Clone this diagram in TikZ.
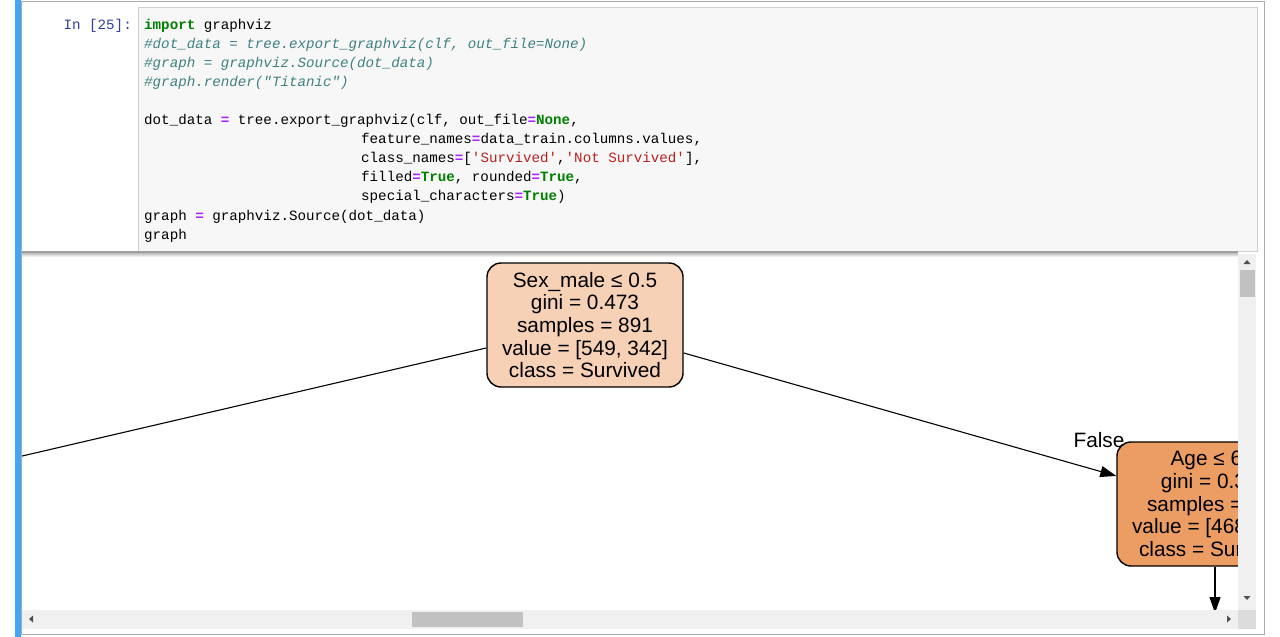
\documentclass[tikz,border=0pt]{standalone}
\usepackage{fontspec}
\setmainfont{Liberation Sans}
\setmonofont{Liberation Mono}
\usetikzlibrary{positioning,arrows.meta}
\definecolor{cellblue}{HTML}{42A5F5}
\definecolor{cellborder}{HTML}{ABABAB}
\definecolor{inbg}{HTML}{F7F7F7}
\definecolor{inborder}{HTML}{CFCFCF}
\definecolor{promptblue}{HTML}{303F9F}
\definecolor{pygreen}{HTML}{008000}
\definecolor{pycomment}{HTML}{408080}
\definecolor{pypurple}{HTML}{AA22FF}
\definecolor{pyred}{HTML}{BA2121}
\definecolor{rootfill}{HTML}{F6D1B6}
\definecolor{agefill}{HTML}{EB9D64}
\definecolor{barbg}{HTML}{F0F0F0}
\definecolor{barthumb}{HTML}{C1C1C1}
\definecolor{barcorner}{HTML}{DCDCDC}
\definecolor{bararrow}{HTML}{505050}
\newcommand{\pykw}[1]{\textcolor{pygreen}{\bfseries #1}}
\newcommand{\pyeq}{\textcolor{pypurple}{\bfseries =}}
\newcommand{\pystr}[1]{\textcolor{pyred}{#1}}
\newcommand{\pycmt}[1]{\textcolor{pycomment}{\itshape #1}}
\tikzset{x=1pt, y=-1pt,
  codeline/.style={anchor=base west, inner sep=0pt, font=\ttfamily\fontsize{14.2}{17}\selectfont},
  treenode/.style={draw=black, line width=1.4pt, rounded corners=14pt, align=center,
    minimum width=196pt, minimum height=124pt, inner sep=0pt, font=\fontsize{20.8}{22.6}\selectfont},
  edge/.style={black, line width=1.1pt, -{Triangle[length=16pt,width=11pt]}},
  edgelabel/.style={inner sep=0pt, font=\fontsize{20.8}{22.6}\selectfont},
  barbtn/.style={fill=bararrow, draw=none}}

\begin{document}
\begin{tikzpicture}
   \useasboundingbox (0,0) rectangle (1280,637);
   % cell frame
   \fill[white] (0,0) rectangle (1280,637);
   \draw[cellborder, line width=1pt] (21,1) rectangle (1264,634);
   \fill[cellblue] (15,0) rectangle (21,637);
   % input area
   \draw[inborder, fill=inbg, line width=1pt] (138,7.5) rectangle (1257,251);
   \node[codeline, anchor=base east, text=promptblue] (prompt) at (132,29) {In [25]:};
   \node[codeline] (c1)  at (144, 29.0) {\pykw{import} graphviz};
   \node[codeline] (c2)  at (144, 48.1) {\pycmt{\#dot\_data = tree.export\_graphviz(clf, out\_file=None)}};
   \node[codeline] (c3)  at (144, 67.2) {\pycmt{\#graph = graphviz.Source(dot\_data)}};
   \node[codeline] (c4)  at (144, 86.3) {\pycmt{\#graph.render("Titanic")}};
   \node[codeline] (c5)  at (144,124.5) {dot\_data \pyeq{} tree.export\_graphviz(clf, out\_file\pyeq\pykw{None},};
   \node[codeline] (c6)  at (361,143.6) {feature\_names\pyeq{}data\_train.columns.values,};
   \node[codeline] (c7)  at (361,162.7) {class\_names\pyeq{}[\pystr{'Survived'},\pystr{'Not Survived'}],};
   \node[codeline] (c8)  at (361,181.8) {filled\pyeq\pykw{True}, rounded\pyeq\pykw{True},};
   \node[codeline] (c9)  at (361,200.9) {special\_characters\pyeq\pykw{True})};
   \node[codeline] (c10) at (144,220.0) {graph \pyeq{} graphviz.Source(dot\_data)};
   \node[codeline] (c11) at (144,239.1) {graph};
   % output area
   \begin{scope}
    \clip (22,251) rectangle (1238,610);
    \fill[gray!75] (22,251) rectangle (1238,253.5);
    \shade[top color=gray!45, bottom color=white] (22,253.5) rectangle (1238,257);
    \node[treenode, fill=rootfill] (root) at (585,325)
      {Sex\_male ≤ 0.5\\gini = 0.473\\samples = 891\\value = [549, 342]\\class = Survived};
    \node[treenode, fill=agefill] (age) at (1215,504)
      {Age ≤ 6.5\\gini = 0.306\\samples = 577\\value = [468, 109]\\class = Survived};
    \coordinate (lft) at (-300,531);
    \coordinate (agekid) at (1215,613);
    \draw[edge] (root) -- (lft);
    \draw[edge] (root) -- (age);
    \draw[edge] (age) -- (agekid);
    \node[edgelabel] (lblfalse) at (1099,440) {False};
   \end{scope}
   % scrollbars
   \fill[barbg] (1238,254) rectangle (1256,610);
   \fill[barthumb] (1240,270) rectangle (1255,297);
   \fill[barbtn] (1243.5,264) -- (1250.5,264) -- (1247,260) -- cycle;
   \fill[barbtn] (1243.5,596) -- (1250.5,596) -- (1247,600) -- cycle;
   \fill[barbg] (22,610) rectangle (1238,629);
   \fill[barthumb] (412,612) rectangle (523,627);
   \fill[barbtn] (33,615.5) -- (33,622.5) -- (29,619) -- cycle;
   \fill[barbtn] (1227,615.5) -- (1227,622.5) -- (1231,619) -- cycle;
   \fill[barcorner] (1238,610) rectangle (1256,629);
\end{tikzpicture}
\end{document}
